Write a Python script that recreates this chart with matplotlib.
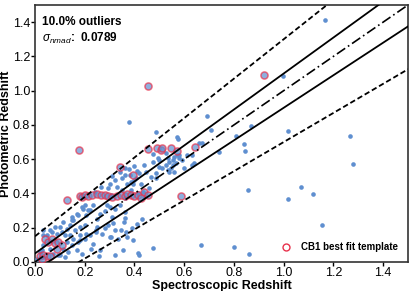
import numpy as np
import matplotlib
matplotlib.use("Agg")
import matplotlib.pyplot as plt
from matplotlib.lines import Line2D

plt.rcParams["font.family"] = ["Liberation Sans", "DejaVu Sans"]
plt.rcParams["mathtext.fontset"] = "custom"
plt.rcParams["mathtext.rm"] = "Liberation Sans"
plt.rcParams["mathtext.it"] = "Liberation Sans:italic"
plt.rcParams["mathtext.bf"] = "Liberation Sans:bold"

# ── data ────────────────────────────────────────────────────────────────────

# all galaxies: spectroscopic vs photometric redshift
zspec = [
    1.165, 0.997, 0.38, 0.69, 0.87, 0.707, 0.487, 0.573, 0.576, 0.81,
    1.017, 1.268, 0.84, 0.844, 0.74, 1.28, 1.07, 1.117, 1.019, 1.155,
    0.856, 0.667, 0.80, 0.86, 0.473, 0.42, 0.66, 0.673,
    # upper dense group
    0.473, 0.493, 0.476, 0.5, 0.527, 0.54, 0.553, 0.56, 0.573, 0.58,
    0.567, 0.553, 0.547, 0.533, 0.54, 0.56, 0.527, 0.533, 0.613, 0.633,
    0.593, 0.633, 0.64, 0.487, 0.487, 0.51, 0.60, 0.50, 0.58,
    # middle dense group
    0.397, 0.384, 0.41, 0.44, 0.34, 0.36, 0.32, 0.30, 0.387, 0.35,
    0.37, 0.40, 0.42, 0.447, 0.467, 0.407, 0.427, 0.393, 0.387, 0.433,
    0.46, 0.293, 0.267, 0.24, 0.307, 0.36, 0.413, 0.44, 0.33, 0.31,
    0.35, 0.38, 0.36,
    # mid-low diagonal
    0.147, 0.167, 0.193, 0.213, 0.233, 0.149, 0.20, 0.207, 0.22, 0.187,
    0.173, 0.153, 0.28, 0.30, 0.32, 0.34, 0.36, 0.29, 0.363, 0.357,
    0.293, 0.31, 0.26, 0.25,
    # near origin
    0.113, 0.10, 0.08, 0.127, 0.14, 0.067, 0.087, 0.107, 0.12, 0.14,
    0.16, 0.18, 0.20, 0.18, 0.153, 0.173, 0.20, 0.22, 0.127, 0.147,
    0.113, 0.133, 0.167, 0.187, 0.227, 0.06, 0.073, 0.10, 0.033, 0.027,
    0.047, 0.033, 0.06, 0.033, 0.02, 0.01, 0.12, 0.093,
    # below the band
    0.18, 0.207, 0.247, 0.313, 0.30, 0.233, 0.26, 0.367, 0.393, 0.353,
    0.32, 0.256, 0.413, 0.304, 0.32, 0.344, 0.333, 0.369, 0.269, 0.248,
    0.247, 0.28, 0.39, 0.41, 0.43,
]
zphot = [
    1.41, 1.085, 0.82, 0.85, 0.795, 0.77, 0.76, 0.731, 0.716, 0.737,
    0.764, 0.737, 0.69, 0.647, 0.643, 0.571, 0.437, 0.394, 0.365, 0.216,
    0.419, 0.097, 0.088, 0.045, 0.082, 0.039, 0.692, 0.692,
    0.628, 0.605, 0.585, 0.595, 0.634, 0.585, 0.595, 0.614, 0.624, 0.605,
    0.575, 0.566, 0.546, 0.536, 0.526, 0.526, 0.566, 0.605, 0.624, 0.624,
    0.595, 0.566, 0.575, 0.517, 0.49, 0.55, 0.55, 0.556, 0.624,
    0.56, 0.507, 0.53, 0.565, 0.526, 0.507, 0.478, 0.458, 0.468, 0.49,
    0.455, 0.48, 0.517, 0.526, 0.497, 0.488, 0.458, 0.458, 0.419, 0.409,
    0.429, 0.429, 0.439, 0.409, 0.39, 0.374, 0.40, 0.38, 0.44, 0.50,
    0.42, 0.54, 0.55,
    0.244, 0.283, 0.312, 0.302, 0.332, 0.262, 0.332, 0.273, 0.302, 0.322,
    0.273, 0.244, 0.30, 0.32, 0.31, 0.33, 0.29, 0.33, 0.257, 0.234,
    0.215, 0.26, 0.28, 0.25,
    0.234, 0.205, 0.205, 0.195, 0.215, 0.175, 0.166, 0.175, 0.156, 0.156,
    0.185, 0.205, 0.215, 0.156, 0.137, 0.117, 0.137, 0.156, 0.117, 0.098,
    0.078, 0.058, 0.068, 0.049, 0.078, 0.078, 0.049, 0.039, 0.098, 0.068,
    0.156, 0.185, 0.185, 0.156, 0.058, 0.02, 0.029, 0.039,
    0.127, 0.166, 0.185, 0.225, 0.146, 0.107, 0.068, 0.175, 0.127, 0.068,
    0.039, 0.033, 0.05, 0.143, 0.185, 0.185, 0.137, 0.143, 0.166, 0.203,
    0.175, 0.20, 0.20, 0.22, 0.25,
]

# galaxies whose best fit template is CB1 (ringed)
zspec_cb1 = [
    0.455, 0.92, 0.176, 0.129, 0.34, 0.393, 0.589,
    0.453, 0.489, 0.507, 0.511, 0.547, 0.571, 0.643,
    0.18, 0.19, 0.20, 0.215, 0.23, 0.25, 0.265, 0.28, 0.295, 0.31,
    0.33, 0.345, 0.36, 0.37, 0.385, 0.40, 0.415, 0.44, 0.453, 0.425,
    0.04, 0.053, 0.067, 0.08, 0.093, 0.087, 0.107,
    0.02, 0.033, 0.047, 0.06, 0.03,
]
zphot_cb1 = [
    1.03, 1.09, 0.653, 0.361, 0.556, 0.507, 0.386,
    0.659, 0.667, 0.653, 0.663, 0.663, 0.647, 0.669,
    0.385, 0.38, 0.39, 0.385, 0.39, 0.395, 0.39, 0.39, 0.385, 0.38,
    0.385, 0.39, 0.385, 0.395, 0.39, 0.385, 0.39, 0.409, 0.39, 0.375,
    0.137, 0.117, 0.137, 0.108, 0.117, 0.078, 0.098,
    0.033, 0.039, 0.033, 0.035, 0.02,
]

outlier_frac = 10.0
sigma_nmad = 0.0789
inner_tol = 0.05   # solid lines, x +/- tol*(1+x)
outer_tol = 0.15   # dashed lines

# ── figure ─────────────────────────────────────────────────────────────────

fig = plt.figure(figsize=(4.15, 2.91), dpi=100)
ax = fig.add_axes([35 / 415, 1 - 262 / 291, 373 / 415, 257 / 291])

blue = "#5f8fd0"
red = "#e8324c"

ax.scatter(zspec, zphot, s=11, color=blue, lw=0, zorder=3)
ax.scatter(zspec_cb1, zphot_cb1, s=26, facecolor=blue, edgecolor=red,
           lw=1.1, alpha=0.7, zorder=4)

xx = np.linspace(0, 1.5, 50)
ax.plot(xx, xx, color="black", lw=1.2, ls=(0, (6, 2, 1, 2)), zorder=5)
for sgn in (1, -1):
    ax.plot(xx, xx + sgn * inner_tol * (1 + xx), color="black", lw=1.3, zorder=5)
    ax.plot(xx, xx + sgn * outer_tol * (1 + xx), color="black", lw=1.3,
            ls=(0, (3, 1.6)), zorder=5)

ticks = np.arange(0, 1.41, 0.2)
ax.set_xlim(0, 1.5)
ax.set_ylim(0, 1.5)
ax.set_xticks(ticks)
ax.set_yticks(ticks)
ax.set_xticklabels([f"{v:.1f}" for v in ticks])
ax.set_yticklabels([f"{v:.1f}" for v in ticks])
ax.tick_params(labelsize=9, length=3, width=1, pad=0.5)
for sp in ax.spines.values():
    sp.set_linewidth(1.2)
    sp.set_color("#333333")

ax.set_xlabel("Spectroscopic Redshift", fontsize=9, fontweight="bold", va="center")
ax.xaxis.set_label_coords(0.5, -0.092)
ax.set_ylabel("Photometric Redshift", fontsize=9, fontweight="bold", va="center")
ax.yaxis.set_label_coords(-0.077, 0.5)

ax.text(0.02, 0.935, f"{outlier_frac:.1f}% outliers", transform=ax.transAxes,
        fontsize=8.5, fontweight="bold", va="center")
ax.text(0.02, 0.87, r"$\sigma_{nmad}$:  " + f"{sigma_nmad:.4f}",
        transform=ax.transAxes, fontsize=8.5, fontweight="bold", va="center")

handle = Line2D([], [], ls="none", marker="o", ms=5, mfc="none", mec=red, mew=1)
ax.legend([handle], ["CB1 best fit template"], loc="lower right",
          frameon=False, prop={"size": 7, "weight": "bold"},
          handletextpad=0.6, borderaxespad=0.6)

fig.savefig("out.png", dpi=100)
